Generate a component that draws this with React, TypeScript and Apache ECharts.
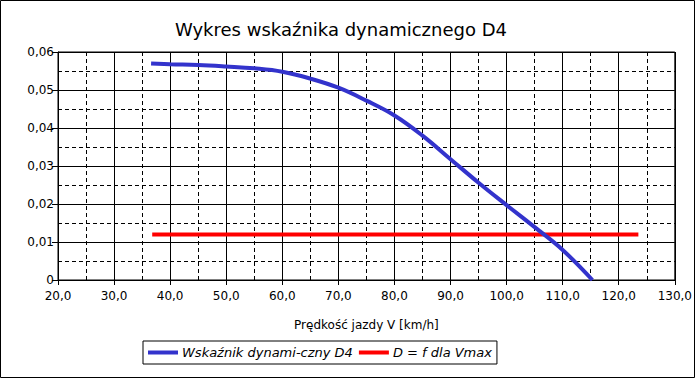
import React, { useEffect, useRef } from "react";
import * as echarts from "echarts";

const titleText = "Wykres wskaźnika dynamicznego D4";
const xAxisName = "Prędkość jazdy V [km/h]";
const seriesNames = ["Wskaźnik dynami-czny D4", "D = f dla Vmax"];

const speedV = [36.6, 40, 45, 50, 55, 60, 65, 70, 75, 80, 85, 90, 95, 100, 105, 110, 115.3];
const dynamicD4 = [0.057, 0.0568, 0.0566, 0.0562, 0.0557, 0.0548, 0.053, 0.0506, 0.0472, 0.0433, 0.038, 0.0318, 0.0256, 0.0197, 0.0139, 0.0079, 0.0];

const vmaxV = [36.8, 123.5];
const vmaxD = [0.012, 0.012];

const FONT = "DejaVu Sans";

export default function App() {
  const ref = useRef<HTMLDivElement>(null);

  useEffect(() => {
    if (!ref.current) return;
    const chart = echarts.init(ref.current, undefined, { renderer: "svg" });
    const blueData = speedV.map((v, i) => [v, dynamicD4[i]]);
    const redData = vmaxV.map((v, i) => [v, vmaxD[i]]);

    chart.setOption({
      animation: false,
      backgroundColor: "#ffffff",
      textStyle: { fontFamily: FONT },
      graphic: [
        {
          type: "rect",
          shape: { x: 0.5, y: 0.5, width: 694, height: 377 },
          style: { fill: "none", stroke: "#000", lineWidth: 1 },
          silent: true,
        },
        {
          type: "text",
          x: 341,
          y: 29,
          style: {
            text: titleText,
            fontFamily: FONT,
            fontSize: 18,
            fill: "#000",
            textAlign: "center",
            textVerticalAlign: "middle",
          },
        },
      ],
      grid: {
        left: 58,
        top: 52,
        right: 18,
        bottom: 98,
        show: true,
        borderColor: "#000",
        borderWidth: 1,
        containLabel: false,
      },
      legend: {
        left: 143,
        top: 341,
        orient: "horizontal",
        data: [seriesNames[0], seriesNames[1]],
        itemWidth: 30,
        itemHeight: 4,
        itemGap: 6,
        icon: "rect",
        padding: [5, 5, 5, 5],
        borderColor: "#000",
        borderWidth: 1,
        borderRadius: 0,
        textStyle: {
          fontFamily: FONT,
          fontSize: 13,
          fontStyle: "italic",
          color: "#000",
          padding: [0, 0, 0, -1],
        },
      },
      xAxis: {
        type: "value",
        min: 20,
        max: 130,
        interval: 10,
        name: xAxisName,
        nameLocation: "middle",
        nameGap: 39,
        nameTextStyle: { fontFamily: FONT, fontSize: 12, color: "#000" },
        axisLine: { show: true, lineStyle: { color: "#000", width: 1 } },
        axisTick: { show: true, length: 5, lineStyle: { color: "#000" } },
        axisLabel: {
          fontFamily: FONT,
          fontSize: 12,
          color: "#000",
          margin: 10,
          formatter: (v: number) => v.toFixed(1).replace(".", ","),
        },
        splitLine: { show: true, lineStyle: { color: "#000", width: 1, type: "solid" } },
        minorTick: { show: false, splitNumber: 2 },
        minorSplitLine: { show: true, lineStyle: { color: "#000", width: 1, type: [4, 3] } },
      },
      yAxis: {
        type: "value",
        min: 0,
        max: 0.06,
        interval: 0.01,
        axisLine: { show: true, lineStyle: { color: "#000", width: 1 } },
        axisTick: { show: true, length: 6, lineStyle: { color: "#000" } },
        axisLabel: {
          fontFamily: FONT,
          fontSize: 12,
          color: "#000",
          margin: 4,
          formatter: (v: number) => (v === 0 ? "0" : v.toFixed(2).replace(".", ",")),
        },
        splitLine: { show: true, lineStyle: { color: "#000", width: 1, type: "solid" } },
        minorTick: { show: false, splitNumber: 2 },
        minorSplitLine: { show: true, lineStyle: { color: "#000", width: 1, type: [4, 3] } },
      },
      series: [
        {
          name: seriesNames[0],
          type: "line",
          data: blueData,
          smooth: 0.4,
          showSymbol: false,
          symbol: "none",
          z: 4,
          color: "#3333cc",
          lineStyle: { color: "#3333cc", width: 4 },
        },
        {
          name: seriesNames[1],
          type: "line",
          data: redData,
          showSymbol: false,
          symbol: "none",
          z: 3,
          color: "#ff0000",
          lineStyle: { color: "#ff0000", width: 4 },
        },
      ],
    });

    return () => chart.dispose();
  }, []);

  return (
    <div
      ref={ref}
      style={{ position: "fixed", left: 0, top: 0, width: 695, height: 378 }}
    />
  );
}
